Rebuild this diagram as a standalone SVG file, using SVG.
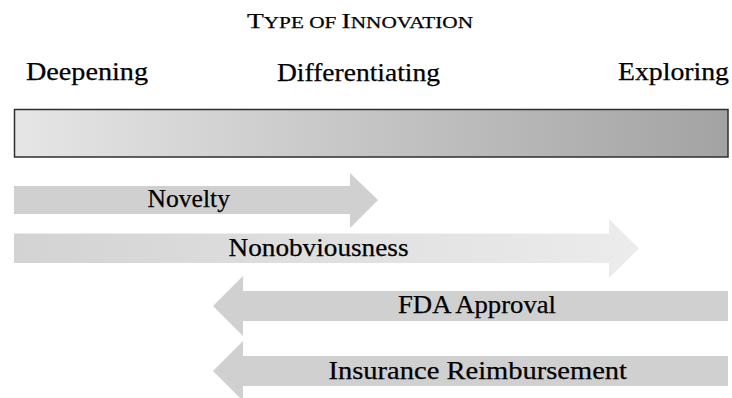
<svg xmlns="http://www.w3.org/2000/svg" width="732" height="398" viewBox="0 0 732 398">
  <defs>
    <linearGradient id="barGrad" x1="0" y1="0" x2="1" y2="0">
      <stop offset="0" stop-color="#e6e6e6"/>
      <stop offset="1" stop-color="#a3a3a3"/>
    </linearGradient>
    <linearGradient id="nonGrad" gradientUnits="userSpaceOnUse" x1="14" y1="0" x2="639" y2="0">
      <stop offset="0" stop-color="#d3d3d3"/>
      <stop offset="1" stop-color="#ececec"/>
    </linearGradient>
    <style>
      text { font-family: "Liberation Serif", "Times New Roman", serif; fill: #000; stroke: #000; stroke-width: 0.25px; }
      .head { font-size: 25px; }
      .lbl { font-size: 24.5px; }
      .arrow { fill: #d1d0d1; }
    </style>
  </defs>

  <g id="title">
    <text x="247" y="28" textLength="226" lengthAdjust="spacingAndGlyphs"><tspan font-size="22">T</tspan><tspan font-size="17">YPE OF </tspan><tspan font-size="22">I</tspan><tspan font-size="17">NNOVATION</tspan></text>
  </g>

  <g id="scale-labels">
    <text class="head" x="26" y="80" textLength="122" lengthAdjust="spacingAndGlyphs">Deepening</text>
    <text class="head" x="277" y="81" textLength="163" lengthAdjust="spacingAndGlyphs">Differentiating</text>
    <text class="head" x="618" y="80" textLength="111" lengthAdjust="spacingAndGlyphs">Exploring</text>
  </g>

  <g id="spectrum-bar">
    <rect x="14.5" y="109.5" width="713.5" height="47.5" fill="url(#barGrad)" stroke="#2e2e2e" stroke-width="1.5"/>
  </g>

  <g id="novelty">
    <polygon class="arrow" points="14,186 350,186 350,173 378,200 350,228 350,214 14,214"/>
    <text class="lbl" x="147.5" y="206.7" textLength="82.5" lengthAdjust="spacingAndGlyphs">Novelty</text>
  </g>

  <g id="nonobviousness">
    <polygon fill="url(#nonGrad)" points="14,233.5 609,233.5 609,219 639,248.5 609,278 609,263 14,263"/>
    <text class="lbl" x="228.5" y="256" textLength="180" lengthAdjust="spacingAndGlyphs">Nonobviousness</text>
  </g>

  <g id="fda-approval">
    <polygon class="arrow" points="728,291 243,291 243,276 213,306 243,336 243,321 728,321"/>
    <text class="lbl" x="398" y="313" textLength="158" lengthAdjust="spacingAndGlyphs">FDA Approval</text>
  </g>

  <g id="insurance-reimbursement">
    <polygon class="arrow" points="728,356 243,356 243,341 213,371 243,401 243,386 728,386"/>
    <text class="lbl" x="328.5" y="379" textLength="298.5" lengthAdjust="spacingAndGlyphs">Insurance Reimbursement</text>
  </g>

  <g id="connectors"/>
</svg>
